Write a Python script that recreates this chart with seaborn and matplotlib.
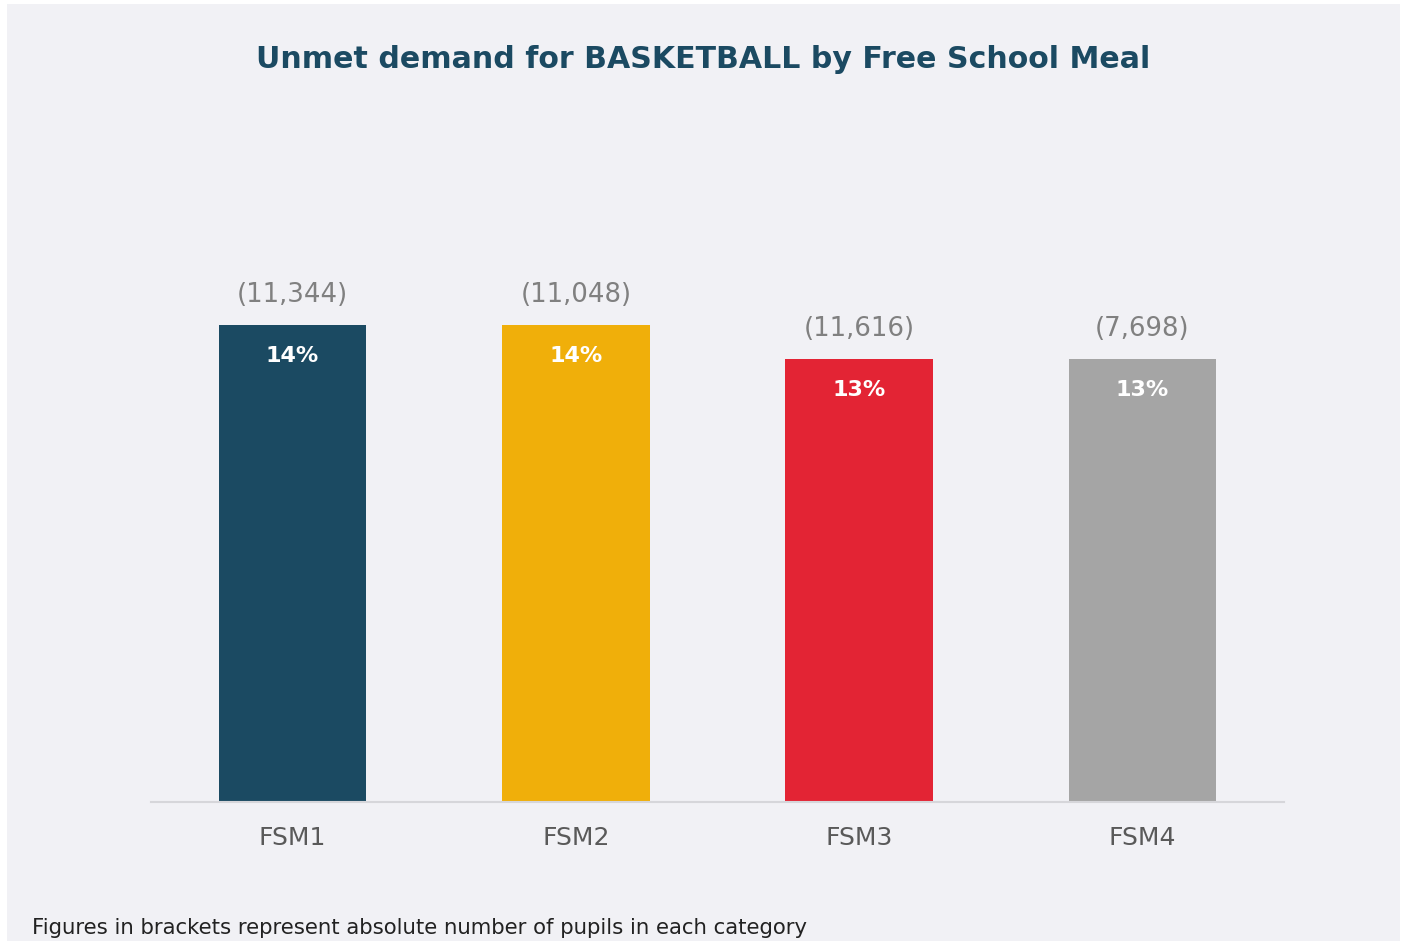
import matplotlib.pyplot as plt
import matplotlib.patches as mpatches
import numpy as np
import seaborn as sns

# Unmet demand for basketball, by Free School Meal group
groups = ["FSM1", "FSM2", "FSM3", "FSM4"]
pct = [14, 14, 13, 13]
pupils = ["(11,344)", "(11,048)", "(11,616)", "(7,698)"]
colors = ["#1B4A62", "#F0AF0A", "#E32434", "#A5A5A5"]

bg = "#F1F1F5"

sns.set_style("white")
plt.rcParams['font.family'] = ['DejaVu Sans']

fig = plt.figure(figsize=(14.06, 9.41), dpi=100)
fig.patch.set_facecolor("white")
# light grey panel behind everything
fig.patches.append(mpatches.Rectangle((7 / 1406, 0), 1393 / 1406, 937 / 941,
                                      transform=fig.transFigure, facecolor=bg,
                                      edgecolor="none", zorder=-5))

ax = fig.add_axes([151 / 1406, 139 / 941, 1133 / 1406, 681 / 941])
ax.set_facecolor("none")
sns.barplot(x=groups, y=pct, hue=groups, palette=colors, legend=False,
            width=0.52, saturation=1, linewidth=0, ax=ax)
ax.set_xlim(-0.5, 3.5)
ax.set_ylim(0, 20)

for i, (v, n) in enumerate(zip(pct, pupils)):
    ax.annotate(f"{v}%", (i, v), xytext=(0, -22), textcoords="offset points",
                ha="center", va="center", color="white", fontsize=16, fontweight="bold")
    ax.annotate(n, (i, v), xytext=(0, 22), textcoords="offset points",
                ha="center", va="center", color="#808080", fontsize=18.7)

for s in ["top", "right", "left"]:
    ax.spines[s].set_visible(False)
ax.spines["bottom"].set_color("#D6D6DA")
ax.spines["bottom"].set_linewidth(1.5)
ax.set_yticks([])
ax.set_xlabel("")
ax.set_ylabel("")
ax.tick_params(axis="x", length=0, pad=17, labelsize=18, labelcolor="#595959")

fig.text(0.5, 1 - 60 / 941, "Unmet demand for BASKETBALL by Free School Meal",
         ha="center", va="center", fontsize=21.6, fontweight="bold", color="#1B4A62")
fig.text(32 / 1406, 1 - 928 / 941,
         "Figures in brackets represent absolute number of pupils in each category",
         ha="left", va="center", fontsize=15.3, color="#222222")

fig.savefig("out.png", dpi=100, facecolor=fig.get_facecolor())
